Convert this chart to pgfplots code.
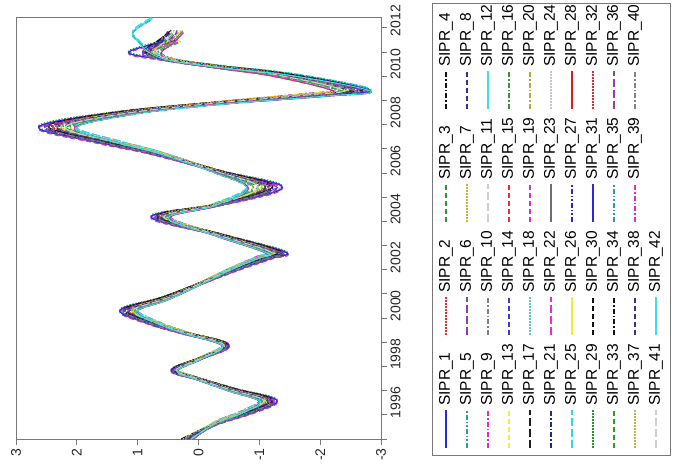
\documentclass[border=0pt]{standalone}
\usepackage{fontspec}
\setmainfont{Liberation Sans}
\usepackage{pgfplots}
\pgfplotsset{compat=1.18}
\usepackage{pgfplotstable}

\definecolor{c1}{RGB}{40,40,225}
\definecolor{c2}{RGB}{230,40,40}
\definecolor{c3}{RGB}{40,160,40}
\definecolor{c4}{RGB}{20,20,20}
\definecolor{c5}{RGB}{40,160,150}
\definecolor{c6}{RGB}{150,60,170}
\definecolor{c7}{RGB}{185,185,60}
\definecolor{c8}{RGB}{50,50,150}
\definecolor{c9}{RGB}{230,40,200}
\definecolor{c10}{RGB}{130,130,130}
\definecolor{c11}{RGB}{205,205,205}
\definecolor{c12}{RGB}{60,225,225}
\definecolor{c13}{RGB}{240,240,60}
\definecolor{c14}{RGB}{60,60,210}
\definecolor{c15}{RGB}{225,50,50}
\definecolor{c16}{RGB}{50,150,50}
\definecolor{c17}{RGB}{30,30,30}
\definecolor{c18}{RGB}{90,200,210}
\definecolor{c19}{RGB}{190,60,200}
\definecolor{c20}{RGB}{175,175,60}
\definecolor{c21}{RGB}{40,40,140}
\definecolor{c22}{RGB}{240,40,220}
\definecolor{c23}{RGB}{110,110,110}
\definecolor{c24}{RGB}{200,200,200}
\definecolor{c25}{RGB}{40,220,230}
\definecolor{c26}{RGB}{240,240,40}
\definecolor{c27}{RGB}{40,40,200}
\definecolor{c28}{RGB}{220,30,30}
\definecolor{c29}{RGB}{40,150,40}
\definecolor{c30}{RGB}{10,10,10}
\definecolor{framegray}{RGB}{120,120,120}

\pgfplotstableread{
yrA     yrB     yrC     v1    v2    v3    v4    v5    v6    v7    v8    v9    vc
1995.00 1995.00 1995.00 0.08  0.22  0.12  0.26  0.18  0.10  0.28  0.15  0.24  0.12
1995.61 1995.66 1995.71 -0.26 -0.27 -0.28 -0.29 -0.30 -0.31 -0.32 -0.32 -0.34 -0.26
1996.07 1996.12 1996.17 -0.71 -0.74 -0.76 -0.79 -0.81 -0.84 -0.86 -0.89 -0.92 -0.72
1996.55 1996.60 1996.65 -1.00 -1.04 -1.07 -1.10 -1.14 -1.17 -1.21 -1.24 -1.29 -1.01
1996.98 1997.03 1997.08 -0.50 -0.51 -0.53 -0.55 -0.56 -0.58 -0.60 -0.62 -0.64 -0.50
1997.47 1997.52 1997.57 0.04  0.05  0.05  0.05  0.05  0.05  0.05  0.05  0.06  0.04
1997.80 1997.85 1997.90 0.35  0.36  0.37  0.38  0.40  0.41  0.42  0.43  0.45  0.35
1998.30 1998.35 1998.40 -0.04 -0.05 -0.05 -0.05 -0.05 -0.05 -0.05 -0.05 -0.06 -0.04
1998.84 1998.89 1998.94 -0.39 -0.41 -0.42 -0.43 -0.45 -0.46 -0.47 -0.49 -0.50 -0.40
1999.33 1999.38 1999.43 0.19  0.20  0.20  0.21  0.22  0.22  0.23  0.24  0.25  0.19
1999.75 1999.80 1999.85 0.65  0.68  0.70  0.72  0.74  0.77  0.79  0.81  0.84  0.66
2000.28 2000.33 2000.38 1.00  1.04  1.07  1.10  1.14  1.17  1.21  1.24  1.29  1.01
2000.82 2000.87 2000.92 0.44  0.45  0.47  0.48  0.50  0.51  0.53  0.54  0.56  0.44
2001.94 2001.99 2002.04 -0.49 -0.50 -0.52 -0.54 -0.55 -0.57 -0.59 -0.60 -0.63 -0.49
2002.44 2002.49 2002.54 -0.94 -0.97 -1.00 -1.04 -1.07 -1.10 -1.13 -1.17 -1.21 -0.95
2002.68 2002.73 2002.78 -1.11 -1.15 -1.19 -1.23 -1.27 -1.31 -1.34 -1.38 -1.43 -1.13
2003.38 2003.43 2003.48 -0.30 -0.32 -0.33 -0.34 -0.35 -0.36 -0.37 -0.38 -0.39 -0.31
2004.13 2004.18 2004.23 0.47  0.54  0.57  0.60  0.62  0.65  0.68  0.72  0.78  0.50
2004.63 2004.68 2004.73 -0.26 -0.27 -0.28 -0.29 -0.30 -0.31 -0.32 -0.32 -0.34 -0.24
2005.35 2005.40 2005.45 -0.82 -0.90 -0.98 -1.05 -1.10 -1.16 -1.22 -1.30 -1.38 -0.80
2005.99 2006.04 2006.09 -0.30 -0.32 -0.33 -0.34 -0.35 -0.36 -0.37 -0.38 -0.39 -0.28
2006.78 2006.83 2006.88 0.63  0.65  0.67  0.69  0.71  0.73  0.76  0.78  0.81  0.62
2007.23 2007.28 2007.33 1.31  1.35  1.40  1.44  1.49  1.53  1.58  1.62  1.68  1.30
2007.85 2007.90 2007.95 2.04  2.12  2.19  2.26  2.33  2.40  2.47  2.54  2.63  2.02
2008.43 2008.48 2008.53 1.09  1.13  1.16  1.20  1.24  1.28  1.31  1.35  1.40  1.05
2008.85 2008.90 2008.95 -0.30 -0.32 -0.33 -0.34 -0.35 -0.36 -0.37 -0.38 -0.39 -0.45
2009.18 2009.23 2009.28 -1.70 -1.76 -1.81 -1.87 -1.93 -1.99 -2.05 -2.11 -2.18 -2.10
2009.38 2009.43 2009.48 -2.22 -2.30 -2.37 -2.45 -2.52 -2.60 -2.68 -2.75 -2.80 -2.83
2010.00 2010.05 2010.10 -1.22 -1.26 -1.30 -1.34 -1.39 -1.43 -1.47 -1.51 -1.57 -1.60
2010.33 2010.38 2010.43 -0.30 -0.32 -0.33 -0.34 -0.35 -0.36 -0.37 -0.38 -0.39 -0.45
2010.62 2010.67 2010.72 0.39  0.41  0.42  0.43  0.45  0.46  0.47  0.49  0.50  0.40
2010.93 2010.98 2011.03 0.62  0.68  0.72  0.76  0.80  0.84  0.88  0.92  1.15  0.78
2011.40 2011.45 2011.50 0.40  0.30  0.55  0.45  0.60  0.35  0.65  0.50  0.53  0.98
2011.80 2011.85 2011.90 0.25  nan   0.40  0.28  0.50  nan   0.45  0.35  nan   1.08
2012.35 2012.40 2012.45 nan   nan   nan   nan   nan   nan   nan   nan   nan   0.76
}\data

\tikzset{
  lsolid/.style={solid},
  ldot/.style={dash pattern=on 1.5pt off 1.5pt},
  ldash/.style={dash pattern=on 5pt off 3pt},
  ldashdot/.style={dash pattern=on 5pt off 2pt on 1.5pt off 2pt},
  llong/.style={dash pattern=on 8pt off 3pt},
  ldashdotdot/.style={dash pattern=on 5pt off 2pt on 1.5pt off 2pt on 1.5pt off 2pt},
}
% legend entry: #1 number, #2 colour, #3 line style, #4 row, #5 column
\newcommand{\lentry}[5]{%
  \draw[#2,#3,line width=1.1pt] ({7+113*#5},{-14-21*#4}) -- ({45+113*#5},{-14-21*#4});
  \node[anchor=west,transform shape,inner sep=0pt,text=black,font=\fontsize{15.5}{17}\selectfont]
    at ({49+113*#5},{-14-21*#4}) {SIPR\_#1};}

\begin{document}
\begin{tikzpicture}[x=1pt,y=1pt]
\begin{axis}[
  name=ax, at={(16pt,34pt)}, anchor=south west,
  scale only axis, width=365pt, height=422pt,
  x dir=reverse, xmin=-3, xmax=3, ymin=1995, ymax=2012.45,
  axis line style={draw=framegray, line width=0.9pt},
  every tick/.style={draw=framegray, line width=0.9pt},
  tick align=outside, major tick length=6pt,
  xtick pos=left, ytick pos=right, yticklabel pos=right,
  xtick={-3,-2,-1,0,1,2,3}, xticklabels={-3,-2,-1,0,1,2,3},
  xticklabel style={rotate=90, anchor=east, font=\fontsize{14}{16}\selectfont, text=black!85},
  ytick={1995,1996,...,2012}, yticklabels={},
  extra y ticks={1996.5,1998.5,2000.5,2002.5,2004.5,2006.5,2008.5,2010.5,2012.3},
  extra y tick labels={1996,1998,2000,2002,2004,2006,2008,2010,2012},
  extra y tick style={major tick length=0pt, yticklabel style={rotate=90, anchor=north, font=\fontsize{14}{16}\selectfont, text=black!85, yshift=-6pt}},
  every axis plot/.append style={smooth, tension=0.6, line width=1pt, no markers},
]
\addplot[c1,lsolid] table[x=v9,y=yrB]{\data};
\addplot[c2,ldot] table[x=v6,y=yrA]{\data};
\addplot[c3,ldash] table[x=v3,y=yrC]{\data};
\addplot[c4,ldashdot] table[x=v7,y=yrB]{\data};
\addplot[c5,ldashdotdot] table[x=v2,y=yrA]{\data};
\addplot[c6,llong] table[x=v8,y=yrC]{\data};
\addplot[c7,ldot] table[x=v4,y=yrB]{\data};
\addplot[c8,ldash] table[x=v5,y=yrA]{\data};
\addplot[c9,ldashdot] table[x=v1,y=yrC]{\data};
\addplot[c10,ldashdot] table[x=v6,y=yrB]{\data};
\addplot[c11,llong] table[x=v3,y=yrA]{\data};
\addplot[c12,lsolid] table[x=vc,y=yrB]{\data};
\addplot[c13,ldash] table[x=v2,y=yrC]{\data};
\addplot[c14,ldash] table[x=v8,y=yrB]{\data};
\addplot[c15,ldash] table[x=v5,y=yrC]{\data};
\addplot[c16,ldashdot] table[x=v4,y=yrA]{\data};
\addplot[c17,llong] table[x=v7,y=yrC]{\data};
\addplot[c18,ldot] table[x=v1,y=yrB]{\data};
\addplot[c19,ldash] table[x=v9,y=yrA]{\data};
\addplot[c20,ldashdot] table[x=v2,y=yrB]{\data};
\addplot[c21,ldashdot] table[x=v6,y=yrC]{\data};
\addplot[c22,llong] table[x=v8,y=yrA]{\data};
\addplot[c23,lsolid] table[x=v5,y=yrB]{\data};
\addplot[c24,ldot] table[x=v3,y=yrB]{\data};
\addplot[c25,llong] table[x=vc,y=yrC]{\data};
\addplot[c26,lsolid] table[x=v4,y=yrC]{\data};
\addplot[c27,ldashdotdot] table[x=v7,y=yrA]{\data};
\addplot[c28,lsolid] table[x=v1,y=yrA]{\data};
\addplot[c29,ldot] table[x=v9,y=yrC]{\data};
\addplot[c30,ldash] table[x=vc,y=yrA]{\data};
\addplot[c1,lsolid] table[x=v9,y=yrB]{\data};
\addplot[c2,ldot] table[x=v6,y=yrC]{\data};
\addplot[c3,ldash] table[x=v3,y=yrA]{\data};
\addplot[c4,ldashdot] table[x=v7,y=yrC]{\data};
\addplot[c5,ldashdotdot] table[x=v2,y=yrB]{\data};
\addplot[c6,llong] table[x=v8,y=yrA]{\data};
\addplot[c7,ldot] table[x=v4,y=yrC]{\data};
\addplot[c8,ldash] table[x=v5,y=yrB]{\data};
\addplot[c9,ldashdot] table[x=v1,y=yrA]{\data};
\addplot[c10,ldashdot] table[x=v6,y=yrA]{\data};
\addplot[c11,llong] table[x=v3,y=yrB]{\data};
\addplot[c12,lsolid] table[x=vc,y=yrA]{\data};
\end{axis}
% legend, drawn rotated like the rest of the chart
\begin{scope}[shift={(432,18)}, rotate=90]
\draw[framegray, line width=0.8pt, fill=white] (0,0) rectangle (452,-238);
\lentry{1}{c1}{lsolid}{0}{0}
\lentry{2}{c2}{ldot}{0}{1}
\lentry{3}{c3}{ldash}{0}{2}
\lentry{4}{c4}{ldashdot}{0}{3}
\lentry{5}{c5}{ldashdotdot}{1}{0}
\lentry{6}{c6}{llong}{1}{1}
\lentry{7}{c7}{ldot}{1}{2}
\lentry{8}{c8}{ldash}{1}{3}
\lentry{9}{c9}{ldashdot}{2}{0}
\lentry{10}{c10}{ldashdot}{2}{1}
\lentry{11}{c11}{llong}{2}{2}
\lentry{12}{c12}{lsolid}{2}{3}
\lentry{13}{c13}{ldash}{3}{0}
\lentry{14}{c14}{ldash}{3}{1}
\lentry{15}{c15}{ldash}{3}{2}
\lentry{16}{c16}{ldashdot}{3}{3}
\lentry{17}{c17}{llong}{4}{0}
\lentry{18}{c18}{ldot}{4}{1}
\lentry{19}{c19}{ldash}{4}{2}
\lentry{20}{c20}{ldashdot}{4}{3}
\lentry{21}{c21}{ldashdot}{5}{0}
\lentry{22}{c22}{llong}{5}{1}
\lentry{23}{c23}{lsolid}{5}{2}
\lentry{24}{c24}{ldot}{5}{3}
\lentry{25}{c25}{llong}{6}{0}
\lentry{26}{c26}{lsolid}{6}{1}
\lentry{27}{c27}{ldashdotdot}{6}{2}
\lentry{28}{c28}{lsolid}{6}{3}
\lentry{29}{c29}{ldot}{7}{0}
\lentry{30}{c30}{ldash}{7}{1}
\lentry{31}{c1}{lsolid}{7}{2}
\lentry{32}{c2}{ldot}{7}{3}
\lentry{33}{c3}{ldash}{8}{0}
\lentry{34}{c4}{ldashdot}{8}{1}
\lentry{35}{c5}{ldashdotdot}{8}{2}
\lentry{36}{c6}{llong}{8}{3}
\lentry{37}{c7}{ldot}{9}{0}
\lentry{38}{c8}{ldash}{9}{1}
\lentry{39}{c9}{ldashdot}{9}{2}
\lentry{40}{c10}{ldashdot}{9}{3}
\lentry{41}{c11}{llong}{10}{0}
\lentry{42}{c12}{lsolid}{10}{1}
\end{scope}
\pgfresetboundingbox
\path (0,0) rectangle (676,473);
\end{tikzpicture}
\end{document}
